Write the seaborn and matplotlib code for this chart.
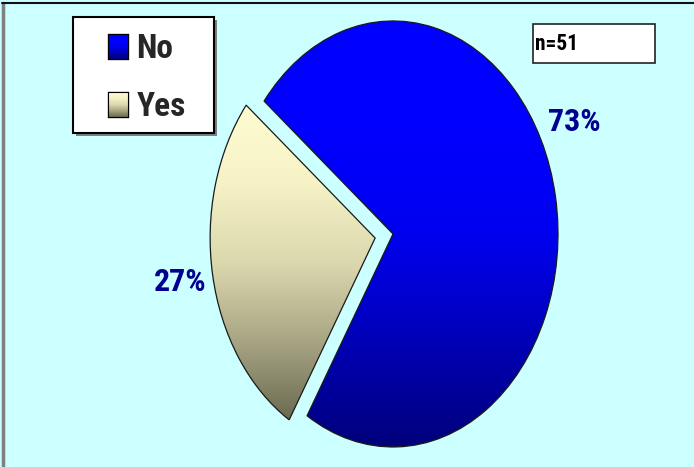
import numpy as np
import matplotlib
matplotlib.use("Agg")
import matplotlib.pyplot as plt
import seaborn as sns
from matplotlib.colors import LinearSegmentedColormap
from matplotlib.patches import Rectangle
from matplotlib.lines import Line2D

# ---- data ----
categories = ["No", "Yes"]
values = [73, 27]
pct_labels = ["73%", "27%"]
sample_note = "n=51"

sns.set_style("white")
plt.rcParams['font.family'] = ['Roboto Condensed', 'DejaVu Sans']

bg = "#CCFFFF"
W, H = 694, 467
fig = plt.figure(figsize=(W / 100, H / 100), dpi=100, facecolor=bg)
ax = fig.add_axes([0.281, 0.0201, 0.5706, 0.9578])
ax.set_facecolor('none')

base_cols = sns.color_palette(["#0000FF", "#EEEAC0"])
cmaps = [
    LinearSegmentedColormap.from_list("no", ["#00007A", "#0000B8", "#0000F0", "#0000FF", "#0000FF"]),
    LinearSegmentedColormap.from_list("yes", ["#6A6A50", "#A8A584", "#DCD8AE", "#F6F2C6", "#FFFCD2"]),
]

wedges, _ = ax.pie(values, labels=categories, labeldistance=None,
                   startangle=238.6, counterclock=True, explode=[0, 0.11],
                   colors=base_cols,
                   wedgeprops=dict(edgecolor="#1a1a1a", linewidth=0.9))
ax.set_aspect('auto')
ax.axis('off')

# legend (content only; frame drawn separately below the axes)
leg = ax.legend(wedges, categories, loc='upper left',
                bbox_to_anchor=(108 / W, 1 - 33 / H), bbox_transform=fig.transFigure,
                borderaxespad=0, borderpad=0, handlelength=0.6, handleheight=0.75,
                handletextpad=0.25, labelspacing=0.78, frameon=False,
                prop={'family': ['Roboto Condensed', 'DejaVu Sans'], 'weight': 'bold', 'size': 24})

# legend box with shadow
fig.add_artist(Rectangle((76 / W, 1 - 136 / H), 141 / W, 116 / H, transform=fig.transFigure,
                         facecolor='#7f7f7f', edgecolor='none', zorder=-2))
fig.add_artist(Rectangle((73 / W, 1 - 133 / H), 141 / W, 116 / H, transform=fig.transFigure,
                         facecolor='white', edgecolor='black', lw=1.5, zorder=-1))

# gradient fills clipped to wedges
for w, cm in zip(wedges, cmaps):
    pts = w.get_patch_transform().transform(w.get_path().vertices)
    ymin, ymax = pts[:, 1].min(), pts[:, 1].max()
    grad = np.linspace(1, 0, 256).reshape(-1, 1)
    im = ax.imshow(grad, cmap=cm, extent=(-1.2, 1.2, ymin, ymax), aspect='auto',
                   zorder=w.get_zorder() + 0.1, origin='upper')
    im.set_clip_path(w)
    w.set_facecolor('none')
    w.set_zorder(w.get_zorder() + 0.2)
ax.set_xlim(-1.2, 1.2)
ax.set_ylim(-1.05, 1.05)

# percent labels
label_pos = [(1.10, 0.526), (-1.29, -0.225)]
for (x, y), t in zip(label_pos, pct_labels):
    ax.text(x, y, t, ha='center', va='center', fontsize=23, fontweight='bold', color='#000090')

# n box
fig.add_artist(Rectangle((533 / W, 1 - 63 / H), 122 / W, 39 / H, transform=fig.transFigure,
                         facecolor='white', edgecolor='#222222', lw=1.2))
fig.text(535 / W, 1 - 44 / H, sample_note, ha='left', va='center', fontsize=15.5,
         fontweight='bold', color='black')

# legend handle gradients
fig.canvas.draw()
renderer = fig.canvas.get_renderer()
for p, cm in zip(leg.get_patches(), cmaps):
    bb = p.get_window_extent(renderer)
    iax = fig.add_axes([bb.x0 / W, bb.y0 / H, bb.width / W, bb.height / H])
    iax.imshow(np.linspace(1, 0, 64).reshape(-1, 1), cmap=cm, aspect='auto')
    iax.set_xticks([]); iax.set_yticks([])
    for s in iax.spines.values():
        s.set_edgecolor('black'); s.set_linewidth(0.8)

# frame lines
fig.add_artist(Line2D([2.5 / W, 2.5 / W], [0, 1 - 3 / H], transform=fig.transFigure,
                      color='#808080', lw=2.5))
fig.add_artist(Line2D([2 / W, 1], [1 - 3 / H, 1 - 3 / H], transform=fig.transFigure,
                      color='#111111', lw=1.5))

fig.savefig("out.png", dpi=100, facecolor=bg)
